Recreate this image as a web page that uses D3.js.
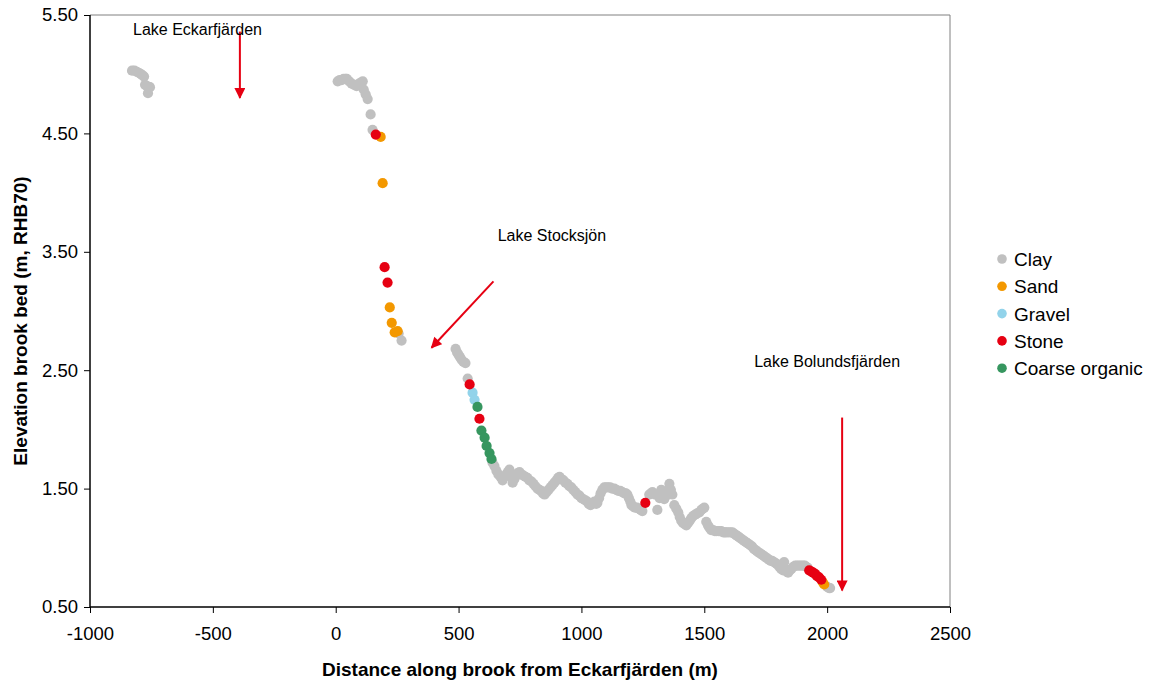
<!DOCTYPE html>
<html>
<head>
<meta charset="utf-8">
<script src="https://cdn.jsdelivr.net/npm/d3@7"></script>
<style>
  html, body { margin: 0; padding: 0; background: #fff; }
  svg { display: block; font-family: "Liberation Sans", Arial, sans-serif; }
</style>
</head>
<body>
<svg id="chart" width="1154" height="684"></svg>
<script>
// Bed material categories and their colours
const categories = ["Clay", "Sand", "Gravel", "Stone", "Coarse organic"];
const colors = ["#c0c0c0", "#f39800", "#92d3ea", "#e60012", "#36965f"];

// [distance along brook (m), bed elevation (m, RHB70)]
const clay = [
  // upstream of Lake Eckarfjärden
  [-829, 5.03], [-819, 5.03], [-809, 5.02], [-800, 5.01], [-793, 5.00], [-786, 4.99], [-780, 4.98],
  [-776, 4.91], [-768, 4.90], [-760, 4.89], [-756, 4.89], [-764, 4.84],
  // Eckarfjärden outlet to Stocksjön
  [8, 4.94], [16, 4.95], [24, 4.95], [32, 4.96], [40, 4.96], [45, 4.96], [55, 4.94], [65, 4.92],
  [75, 4.91], [85, 4.90], [95, 4.92], [102, 4.93], [110, 4.94], [114, 4.87], [122, 4.83], [130, 4.79],
  [142, 4.66], [150, 4.53], [256, 2.81], [268, 2.75],
  // Stocksjön outlet to Bolundsfjärden
  [488, 2.68], [494, 2.65], [500, 2.63], [506, 2.61], [512, 2.59], [520, 2.57], [528, 2.56], [537, 2.43],
  [638, 1.72], [646, 1.69], [654, 1.65], [662, 1.62], [670, 1.60], [679, 1.57], [686, 1.60], [694, 1.62],
  [700, 1.64], [707, 1.66], [713, 1.60], [720, 1.55], [727, 1.58], [734, 1.61], [741, 1.63], [748, 1.64],
  [756, 1.62], [764, 1.61], [772, 1.60], [780, 1.59], [788, 1.57], [797, 1.56], [805, 1.54], [813, 1.52],
  [821, 1.50], [829, 1.49], [836, 1.48], [843, 1.46], [850, 1.45], [858, 1.47], [866, 1.49], [874, 1.51],
  [882, 1.53], [890, 1.55], [898, 1.57], [905, 1.59], [911, 1.60], [919, 1.58], [927, 1.57], [935, 1.55],
  [943, 1.54], [951, 1.52], [959, 1.51], [967, 1.49], [976, 1.47], [984, 1.45], [992, 1.44], [1000, 1.42],
  [1008, 1.41], [1016, 1.40], [1024, 1.39], [1030, 1.37], [1037, 1.36], [1045, 1.38], [1053, 1.39],
  [1060, 1.37], [1065, 1.38], [1072, 1.42], [1078, 1.46], [1085, 1.49], [1093, 1.51], [1101, 1.51],
  [1109, 1.51], [1117, 1.51], [1125, 1.50], [1134, 1.50], [1142, 1.49], [1150, 1.48], [1158, 1.48],
  [1166, 1.47], [1175, 1.46], [1181, 1.46], [1187, 1.45], [1193, 1.42], [1199, 1.39], [1204, 1.36],
  [1210, 1.35], [1218, 1.34], [1226, 1.34], [1234, 1.33], [1241, 1.32], [1248, 1.31],
  [1276, 1.45], [1283, 1.46], [1289, 1.47], [1300, 1.45], [1309, 1.32], [1318, 1.42], [1325, 1.49],
  [1330, 1.45], [1337, 1.41], [1344, 1.44], [1350, 1.48], [1358, 1.54], [1364, 1.49], [1370, 1.45],
  [1378, 1.36], [1386, 1.33], [1394, 1.30], [1400, 1.26], [1406, 1.23], [1413, 1.21], [1420, 1.20],
  [1427, 1.19], [1434, 1.21], [1441, 1.23], [1447, 1.25], [1455, 1.27], [1463, 1.28], [1471, 1.29],
  [1480, 1.30], [1488, 1.32], [1494, 1.33], [1500, 1.34], [1508, 1.22], [1515, 1.19], [1521, 1.17],
  [1528, 1.15], [1536, 1.15], [1543, 1.14], [1549, 1.14], [1557, 1.14], [1563, 1.14], [1569, 1.14],
  [1577, 1.13], [1583, 1.13], [1589, 1.13], [1597, 1.13], [1606, 1.13], [1614, 1.13], [1621, 1.12],
  [1628, 1.11], [1634, 1.10], [1641, 1.09], [1648, 1.08], [1654, 1.07], [1661, 1.06], [1668, 1.05],
  [1675, 1.04], [1682, 1.03], [1688, 1.02], [1695, 1.01], [1702, 0.99], [1709, 0.98], [1715, 0.97],
  [1722, 0.96], [1729, 0.95], [1736, 0.94], [1743, 0.93], [1750, 0.92], [1756, 0.91], [1763, 0.90],
  [1770, 0.89], [1776, 0.89], [1783, 0.88], [1790, 0.87], [1797, 0.86], [1805, 0.84], [1813, 0.82],
  [1821, 0.81], [1825, 0.88], [1829, 0.82], [1835, 0.80], [1841, 0.79], [1848, 0.81], [1854, 0.82],
  [1862, 0.84], [1870, 0.85], [1878, 0.85], [1886, 0.85], [1894, 0.85], [1902, 0.85], [1909, 0.85],
  [1915, 0.84], [1921, 0.83], [2000, 0.67], [2008, 0.66], [2012, 0.66]
];
const sand = [[183, 4.47], [191, 4.08], [220, 3.03], [228, 2.90], [240, 2.82], [252, 2.83],
  [1982, 0.71], [1988, 0.69]];
const gravel = [[557, 2.31], [565, 2.25]];
const stone = [[163, 4.49], [199, 3.37], [211, 3.24], [545, 2.38], [585, 2.09], [1260, 1.38],
  [1927, 0.81], [1935, 0.80], [1943, 0.79], [1951, 0.78], [1959, 0.76], [1967, 0.75], [1976, 0.73]];
const organic = [[577, 2.19], [593, 1.99], [606, 1.93], [614, 1.86], [626, 1.80], [634, 1.75]];

const series = [clay, sand, gravel, stone, organic];

const xTicks = [-1000, -500, 0, 500, 1000, 1500, 2000, 2500];
const yTicks = [0.5, 1.5, 2.5, 3.5, 4.5, 5.5];

// Lake annotations: label position and arrow from/to, in data units
const lakes = [
  { name: "Lake Eckarfjärden", label: [-825, 5.33], from: [-390, 5.36], to: [-390, 4.80] },
  { name: "Lake Stocksjön", label: [659, 3.59], from: [642, 3.25], to: [390, 2.69] },
  { name: "Lake Bolundsfjärden", label: [1703, 2.53], from: [2061, 2.10], to: [2061, 0.64] }
];

const svg = d3.select("#chart");
const margin = { left: 90, right: 204, top: 15, bottom: 77 };
const W = 1154, H = 684;
const FONT = "'Liberation Sans', Arial, sans-serif";

const x = d3.scaleLinear().domain([-1000, 2500]).range([margin.left, W - margin.right]);
const y = d3.scaleLinear().domain([0.5, 5.5]).range([H - margin.bottom, margin.top]);

svg.append("rect").attr("width", W).attr("height", H).attr("fill", "#fff");

// frame (top and right)
svg.append("path")
  .attr("d", `M${x(-1000)},${y(5.5)}H${x(2500)}V${y(0.5)}`)
  .attr("fill", "none").attr("stroke", "#808080").attr("stroke-width", 1);

// axes
const xAxis = svg.append("g")
  .attr("transform", `translate(0,${y(0.5)})`)
  .call(d3.axisBottom(x).tickValues(xTicks).tickSize(6).tickPadding(14).tickFormat(d => String(d)));
const yAxis = svg.append("g")
  .attr("transform", `translate(${x(-1000)},0)`)
  .call(d3.axisLeft(y).tickValues(yTicks).tickSize(6).tickPadding(6).tickFormat(d => d.toFixed(2)));

[xAxis, yAxis].forEach(g => {
  g.select(".domain").attr("stroke", "#000").attr("stroke-width", 1.5);
  g.selectAll(".tick line").attr("stroke", "#000").attr("stroke-width", 1);
  g.selectAll(".tick text").attr("fill", "#000").attr("font-size", 18.5).attr("font-family", FONT);
});
xAxis.select(".domain").attr("d", `M${x(-1000)},0H${x(2500)}`);
yAxis.select(".domain").attr("d", `M0,${y(0.5)}V${y(5.5)}`);

// axis titles
svg.append("text")
  .attr("x", (x(-1000) + x(2500)) / 2).attr("y", 676)
  .attr("text-anchor", "middle").attr("font-size", 19).attr("font-weight", "bold")
  .text("Distance along brook from Eckarfjärden (m)");
svg.append("text")
  .attr("transform", `translate(27,${(y(0.5) + y(5.5)) / 2 + 10}) rotate(-90)`)
  .attr("text-anchor", "middle").attr("font-size", 19).attr("font-weight", "bold")
  .text("Elevation brook bed (m, RHB70)");

// survey points, one layer per material
series.forEach((pts, i) => {
  svg.append("g").selectAll("circle").data(pts).join("circle")
    .attr("cx", d => x(d[0])).attr("cy", d => y(d[1]))
    .attr("r", 5.1).attr("fill", colors[i]);
});

// lake annotations
const red = "#e60012";
svg.append("defs").append("marker")
  .attr("id", "arrow").attr("viewBox", "0 0 10 10").attr("refX", 9).attr("refY", 5)
  .attr("markerWidth", 6).attr("markerHeight", 5.5).attr("markerUnits", "strokeWidth")
  .attr("orient", "auto")
  .append("path").attr("d", "M0,0L10,5L0,10Z").attr("fill", red);

lakes.forEach(l => {
  svg.append("line")
    .attr("x1", x(l.from[0])).attr("y1", y(l.from[1]))
    .attr("x2", x(l.to[0])).attr("y2", y(l.to[1]))
    .attr("stroke", red).attr("stroke-width", 2).attr("marker-end", "url(#arrow)");
  svg.append("text")
    .attr("x", x(l.label[0])).attr("y", y(l.label[1]))
    .attr("font-size", 16).attr("fill", "#000").text(l.name);
});

// legend
const legend = svg.append("g").attr("transform", "translate(1002,259)");
categories.forEach((c, i) => {
  const row = legend.append("g").attr("transform", `translate(0,${i * 27.3})`);
  row.append("circle").attr("r", 4.8).attr("fill", colors[i]);
  row.append("text").attr("x", 12).attr("y", 7).attr("font-size", 19).attr("fill", "#000").text(c);
});
</script>
</body>
</html>
